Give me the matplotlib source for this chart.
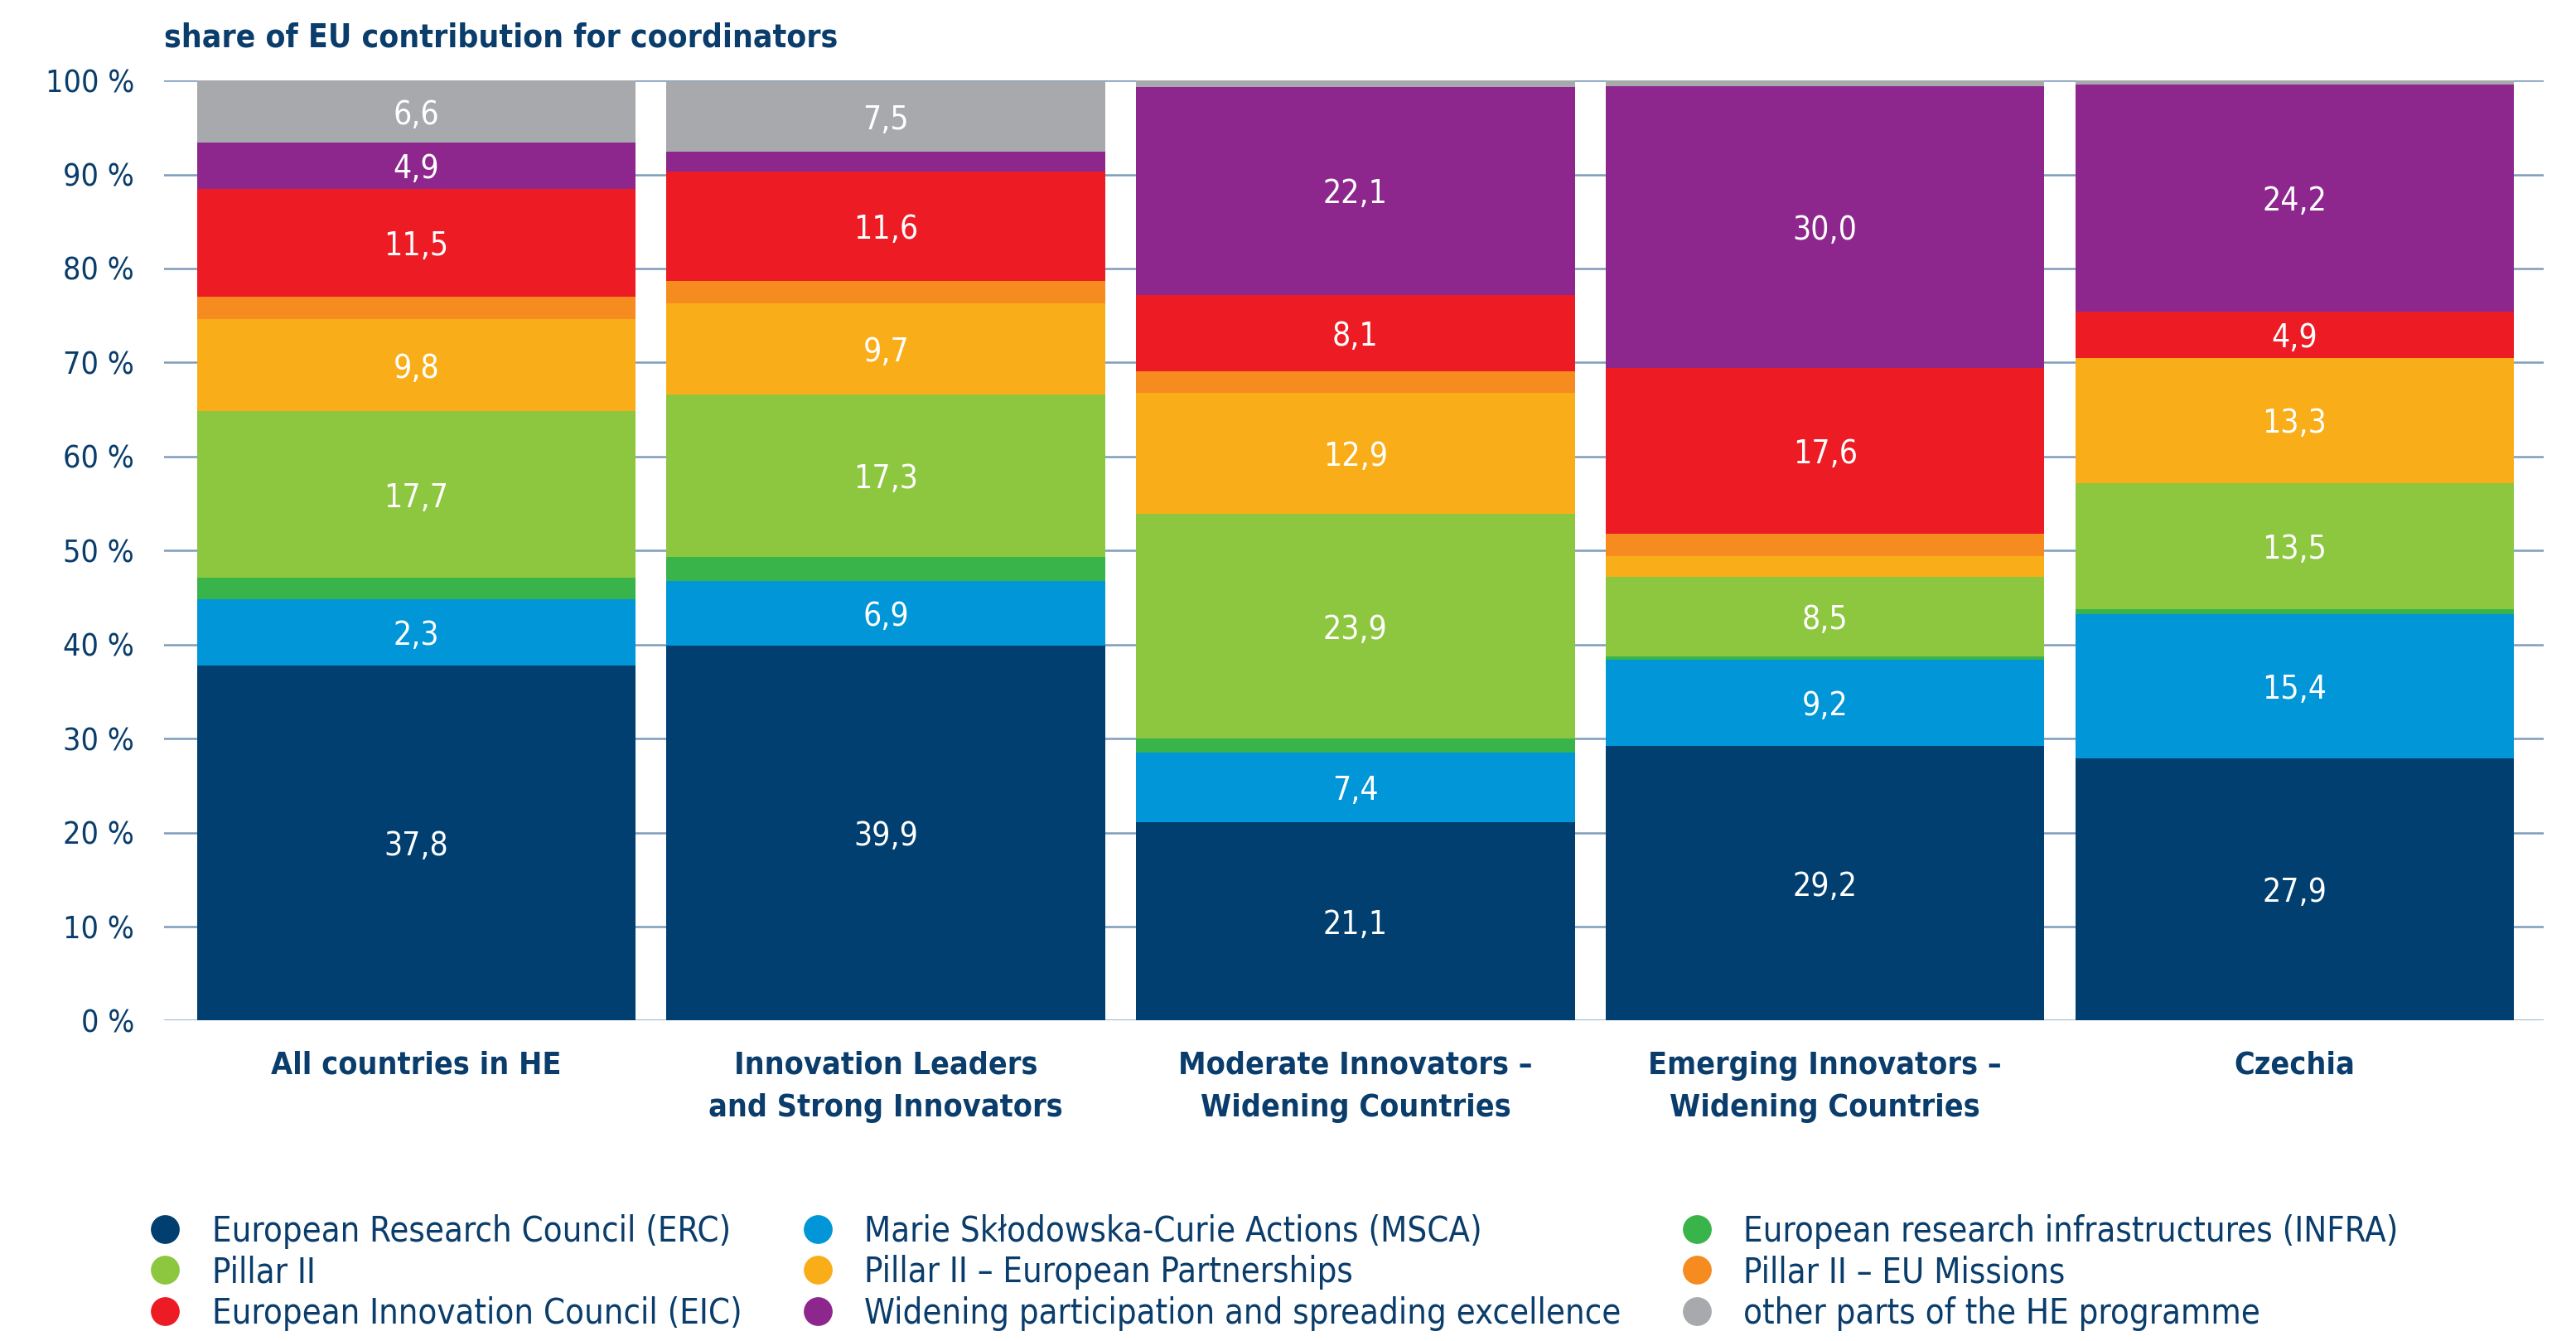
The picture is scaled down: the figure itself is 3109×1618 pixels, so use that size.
import matplotlib.pyplot as plt
from matplotlib.lines import Line2D
import numpy as np

groups = ["All countries in HE", "Innovation Leaders\nand Strong Innovators",
          "Moderate Innovators –\nWidening Countries",
          "Emerging Innovators –\nWidening Countries", "Czechia"]

series = ["European Research Council (ERC)",
          "Marie Skłodowska-Curie Actions (MSCA)",
          "European research infrastructures (INFRA)",
          "Pillar II",
          "Pillar II – European Partnerships",
          "Pillar II – EU Missions",
          "European Innovation Council (EIC)",
          "Widening participation and spreading excellence",
          "other parts of the HE programme"]

colors = ["#003f6f", "#0096d8", "#39b44a", "#8dc63f", "#f9ae19",
          "#f68b1f", "#ed1c24", "#8e278d", "#a7a9ac"]

# shares (%)
erc = [37.8, 39.9, 21.1, 29.2, 27.9]
msca = [7.0, 6.9, 7.4, 9.2, 15.3]
infra = [2.3, 2.5, 1.5, 0.3, 0.6]
pillar2 = [17.7, 17.3, 23.9, 8.5, 13.4]
partnerships = [9.8, 9.7, 12.9, 2.2, 13.3]
missions = [2.4, 2.4, 2.3, 2.4, 0.0]
eic = [11.5, 11.6, 8.1, 17.6, 4.9]
widening = [4.9, 2.1, 22.1, 30.0, 24.2]
other = [6.6, 7.5, 0.7, 0.6, 0.4]

# numbers printed inside the segments ("" = none)
erc_lbl = ["37,8", "39,9", "21,1", "29,2", "27,9"]
msca_lbl = ["2,3", "6,9", "7,4", "9,2", "15,4"]
infra_lbl = ["", "", "", "", ""]
pillar2_lbl = ["17,7", "17,3", "23,9", "8,5", "13,5"]
partnerships_lbl = ["9,8", "9,7", "12,9", "", "13,3"]
missions_lbl = ["", "", "", "", ""]
eic_lbl = ["11,5", "11,6", "8,1", "17,6", "4,9"]
widening_lbl = ["4,9", "", "22,1", "30,0", "24,2"]
other_lbl = ["6,6", "7,5", "", "", ""]

values = [erc, msca, infra, pillar2, partnerships, missions, eic, widening, other]
labels = [erc_lbl, msca_lbl, infra_lbl, pillar2_lbl, partnerships_lbl,
          missions_lbl, eic_lbl, widening_lbl, other_lbl]

navy = "#0a3d6b"
plt.rcParams['font.family'] = ['DejaVu Sans']
plt.rcParams['font.stretch'] = 'condensed'

fig = plt.figure(figsize=(31.09, 16.18), dpi=100)
ax = fig.add_axes([0.0637, 0.2389, 0.9237, 0.7011])

x = np.arange(len(groups))
bottom = np.zeros(len(groups))
for vals, lbls, c in zip(values, labels, colors):
    vals = np.array(vals)
    ax.bar(x, vals, bottom=bottom, width=0.934, color=c, zorder=2)
    for xi, b, v, t in zip(x, bottom, vals, lbls):
        if t:
            ax.text(xi, b + v / 2, t, ha='center', va='center_baseline', color='white',
                    fontsize=28, zorder=3)
    bottom = bottom + vals

# axes and grid
ax.set_xlim(-0.537, 4.53)
ax.set_ylim(0, 100)
ax.set_yticks(range(0, 101, 10))
ax.set_yticklabels([f"{v} %" for v in range(0, 101, 10)], fontsize=27, color=navy)
ax.set_xticks(x)
ax.set_xticklabels(groups, fontsize=27, fontweight='bold', color=navy, linespacing=1.55)
ax.tick_params(length=0)
ax.tick_params(axis='y', pad=26)
ax.tick_params(axis='x', pad=26)
ax.yaxis.grid(True, color='#7f9cba', linewidth=1.8)
ax.set_axisbelow(True)
for s in ax.spines.values():
    s.set_visible(False)

fig.text(0.0637, 0.972, "share of EU contribution for coordinators", fontsize=28,
         fontweight='bold', color=navy, va='center', ha='left')

# legend, filled row by row
order = [0, 3, 6, 1, 4, 7, 2, 5, 8]
handles = [Line2D([], [], marker='o', ls='', color=colors[i], markersize=24) for i in order]
leg = fig.legend(handles, [series[i] for i in order], ncol=3, loc='upper left',
                 bbox_to_anchor=(0.0507, 0.1077), frameon=False, fontsize=30,
                 handlelength=1.0, handletextpad=0.85, columnspacing=1.7,
                 labelspacing=0.18, borderpad=0)
for t in leg.get_texts():
    t.set_color(navy)

plt.savefig("out.png", dpi=100)
